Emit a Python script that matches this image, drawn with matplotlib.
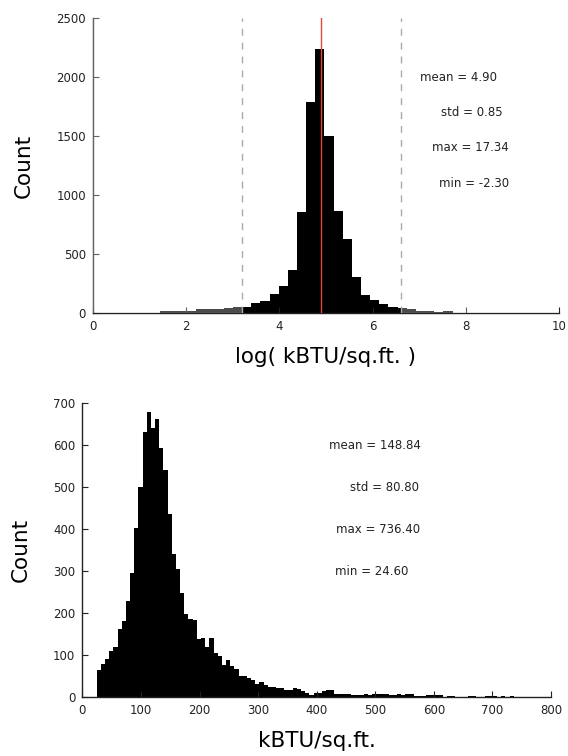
import numpy as np
import matplotlib
matplotlib.use("Agg")
import matplotlib.pyplot as plt

# ---------------- data ----------------
# top: log(kBTU/sq.ft.) histogram, 100 equal bins between min and max
log_min, log_max = -2.30, 17.34
log_mean, log_std = 4.90, 0.85
log_counts = [1] + [0] * 18 + [
    18, 17, 20, 19, 36, 38, 37, 39, 52, 53,          # bins 19-28
    86, 101, 158, 231, 364, 860, 1790, 2238, 1497, 868,  # 29-38
    631, 307, 156, 110, 79, 53, 43, 32, 20, 20,      # 39-48
    8, 19, 3, 2, 1, 1, 0, 1, 0, 0,                   # 49-58
] + [0] * 40 + [1]
log_counts = log_counts[:100]

# bottom: kBTU/sq.ft. histogram, 100 equal bins between min and max
raw_min, raw_max = 24.60, 736.40
raw_mean, raw_std = 148.84, 80.80
raw_counts = [
    65, 78, 91, 110, 120, 162, 182, 228, 295, 402,
    501, 631, 680, 642, 663, 594, 540, 436, 341, 305,
    249, 199, 187, 183, 138, 141, 120, 141, 106, 97,
    77, 89, 75, 68, 50, 49, 46, 40, 31, 36,
    29, 25, 23, 22, 22, 17, 17, 22, 20, 15,
    10, 5, 10, 10, 14, 16, 16, 8, 8, 8,
    8, 6, 4, 4, 8, 6, 8, 8, 8, 8,
    6, 6, 8, 4, 8, 8, 2, 2, 2, 4,
    4, 4, 4, 1, 2, 2, 1, 0, 1, 2,
    2, 0, 1, 2, 2, 2, 0, 2, 1, 2,
]

top_stats = [("mean", log_mean), ("std", log_std), ("max", 17.34), ("min", -2.30)]
bot_stats = [("mean", raw_mean), ("std", raw_std), ("max", raw_max), ("min", raw_min)]

top_xticks = [0, 2, 4, 6, 8, 10]
top_yticks = [0, 500, 1000, 1500, 2000, 2500]
bot_xticks = [0, 100, 200, 300, 400, 500, 600, 700, 800]
bot_yticks = [0, 100, 200, 300, 400, 500, 600, 700]

# ---------------- drawing ----------------
plt.rcParams['font.family'] = ['DejaVu Sans']
fig = plt.figure(figsize=(5.68, 7.56), dpi=100)

def style(ax):
    for s in ('top', 'right'):
        ax.spines[s].set_visible(False)
    for s in ('left', 'bottom'):
        ax.spines[s].set_color('#222222')
        ax.spines[s].set_linewidth(1.0)
    ax.tick_params(direction='in', length=4, width=0.8, colors='#222222',
                   labelsize=8.5, top=False, right=False, pad=5)

LABEL_FS = 15.5

# top axes
ax1 = fig.add_axes([0.1637, 0.586, 0.8204, 0.390])
edges1 = np.linspace(log_min, log_max, len(log_counts) + 1)
ax1.hist(edges1[:-1], bins=edges1, weights=log_counts, color='black',
         histtype='stepfilled', linewidth=0)
lo, hi = log_mean - 2 * log_std, log_mean + 2 * log_std
ax1.set_xlim(0, 10)
ax1.set_ylim(0, 2500)
ax1.axvspan(0, lo, color='white', alpha=0.3, linewidth=0, zorder=3)
ax1.axvspan(hi, 10, color='white', alpha=0.3, linewidth=0, zorder=3)
ax1.axvline(lo, color='#aaaaaa', linestyle=(0, (5, 5)), linewidth=1, zorder=4)
ax1.axvline(hi, color='#aaaaaa', linestyle=(0, (5, 5)), linewidth=1, zorder=4)
ax1.axvline(log_mean, color='#e0493b', linewidth=1, zorder=5)
ax1.set_xticks(top_xticks)
ax1.set_yticks(top_yticks)
style(ax1)
ax1.set_xlabel('log( kBTU/sq.ft. )', fontsize=LABEL_FS, labelpad=10)
ax1.set_ylabel('Count', fontsize=LABEL_FS, labelpad=16)
top_text_x = [7.85, 8.13, 8.10, 8.17]
top_text_y = [2000, 1700, 1400, 1100]
for (name, v), tx, ty in zip(top_stats, top_text_x, top_text_y):
    ax1.text(tx, ty, f'{name} = {v:.2f}', ha='center', va='center',
             fontsize=8.5, color='#222222')

# bottom axes
ax2 = fig.add_axes([0.145, 0.078, 0.825, 0.3885])
edges2 = np.linspace(raw_min, raw_max, len(raw_counts) + 1)
ax2.hist(edges2[:-1], bins=edges2, weights=raw_counts, color='black',
         histtype='stepfilled', linewidth=0)
ax2.set_xlim(0, 800)
ax2.set_ylim(0, 700)
ax2.set_xticks(bot_xticks)
ax2.set_yticks(bot_yticks)
style(ax2)
ax2.set_xlabel('kBTU/sq.ft.', fontsize=LABEL_FS, labelpad=10)
ax2.set_ylabel('Count', fontsize=LABEL_FS, labelpad=16)
bot_text_x = [499, 516, 504, 494]
bot_text_y = [600, 500, 400, 300]
for (name, v), tx, ty in zip(bot_stats, bot_text_x, bot_text_y):
    ax2.text(tx, ty, f'{name} = {v:.2f}', ha='center', va='center',
             fontsize=8.5, color='#222222')

fig.savefig('out.png', dpi=100)
